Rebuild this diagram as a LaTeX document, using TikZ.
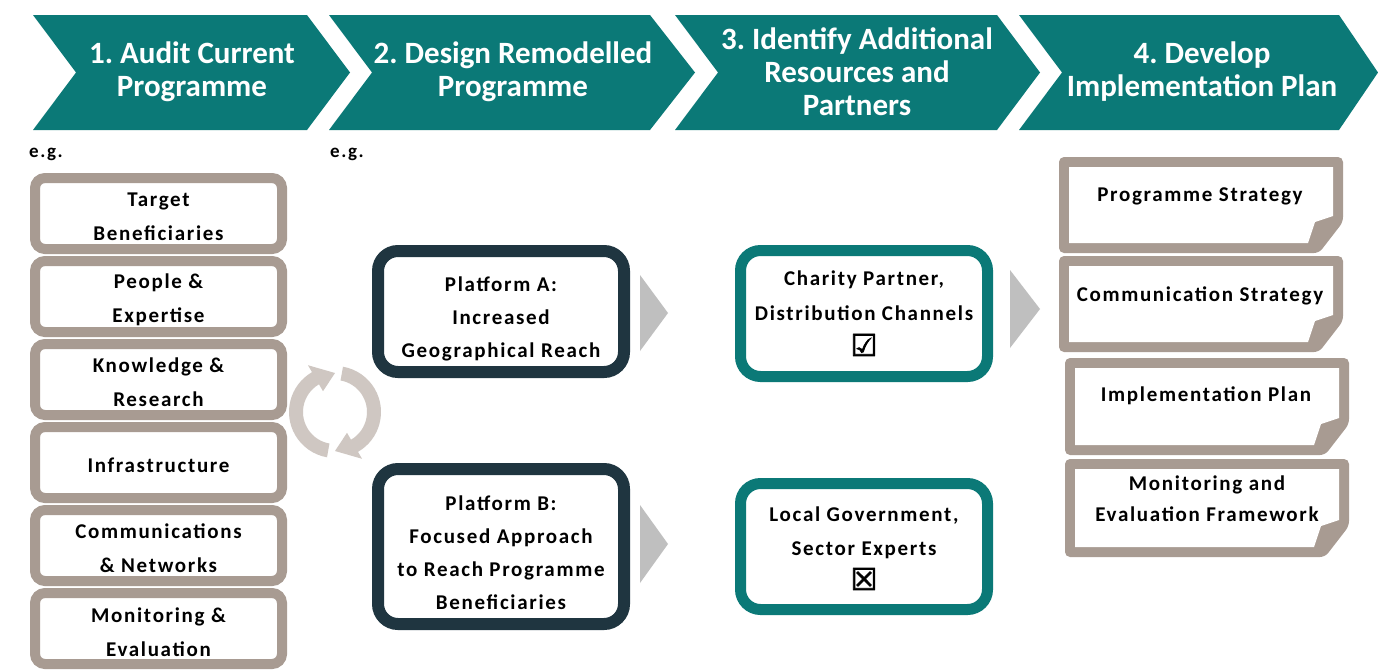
\documentclass[tikz,border=0pt]{standalone}
\usepackage{fontspec}
\setmainfont{Carlito}
\newfontfamily\spacedfont[LetterSpace=8]{Carlito}
\newfontfamily\symfont[FakeBold=2.5]{DejaVu Sans}
\frenchspacing
\definecolor{tealc}{RGB}{11,121,119}
\definecolor{gryc}{RGB}{168,155,146}
\definecolor{navyc}{RGB}{31,53,64}
\definecolor{trigc}{RGB}{191,191,191}
\definecolor{recc}{RGB}{207,199,194}
\tikzset{
  chev/.style={fill=tealc},
  chevtext/.style={text=white, align=center, font={\frenchspacing\bfseries\fontsize{31pt}{33pt}\selectfont}},
  body/.style={align=center, text=black, font={\spacedfont\bfseries\fontsize{21pt}{34pt}\selectfont}},
  lbox/.style={draw=gryc, line width=10pt, rounded corners=10pt, fill=white, minimum width=247pt, minimum height=71pt},
  pbox/.style={draw=navyc, line width=12pt, rounded corners=20pt, fill=white, minimum width=246pt},
  tbox/.style={draw=tealc, line width=11pt, rounded corners=20pt, fill=white, minimum width=247pt, minimum height=126pt},
  trig/.style={fill=trigc},
  docfill/.style={fill=gryc, rounded corners=5pt},
  eg/.style={font={\spacedfont\bfseries\fontsize{19pt}{20pt}\selectfont}},
}
\newcommand\docshape[4]{%
  \fill[docfill] (#1,#2) -- (#3,#2) -- (#3,{#4-31}) -- ({#3-24},#4) -- (#1,#4) -- cycle;
  \fill[white] ({#1+10},{#2+10}) -- ({#3-10},{#2+10}) -- ({#3-10},{#4-37}) -- ({#3-28},{#4-31}) -- ({#3-35},{#4-10}) -- ({#1+10},{#4-10}) -- cycle;
}
\begin{document}
\begin{tikzpicture}[x=1pt,y=-1pt]
\useasboundingbox (0,0) rectangle (1378,670);
\fill[white] (0,0) rectangle (1378,670);
% chevrons
\fill[chev] (33,15) -- (307,15) -- (350,72.5) -- (307,130) -- (33,130) -- (76,72.5) -- cycle;
\fill[chev] (329,15) -- (650,15) -- (695,72.5) -- (650,130) -- (329,130) -- (372,72.5) -- cycle;
\fill[chev] (675,15) -- (997,15) -- (1040,72.5) -- (997,130) -- (675,130) -- (718,72.5) -- cycle;
\fill[chev] (1019,15) -- (1339,15) -- (1378,72.5) -- (1339,130) -- (1019,130) -- (1062,72.5) -- cycle;
\node[chevtext] (c1) at (192,72) {1. Audit Current\\Programme};
\node[chevtext] (c2) at (513,72) {2. Design Remodelled\\Programme};
\node[chevtext] (c3) at (857,72) {3. Identify Additional\\Resources and\\Partners};
\node[chevtext] (c4) at (1202,72) {4. Develop\\Implementation Plan};
% e.g.
\node[eg] (eg1) at (46,154) {e.g.};
\node[eg] (eg2) at (347,154) {e.g.};
% left column
\foreach \i/\yy in {1/213.5,2/296.5,3/379.5,4/462.5,5/545.5,6/628.5}
  \node[lbox] (l\i) at (158.5,\yy) {};
\node[body] (l1t) at ([yshift=-3pt]l1.center) {Target\\Beneficiaries};
\node[body] (l2t) at ([yshift=-3pt]l2.center) {People \&\\Expertise};
\node[body] (l3t) at ([yshift=-3pt]l3.center) {Knowledge \&\\Research};
\node[body] (l4t) at ([yshift=-3pt]l4.center) {Infrastructure};
\node[body] (l5t) at ([yshift=-3pt]l5.center) {Communications\\\& Networks};
\node[body] (l6t) at ([yshift=-4pt]l6.center) {Monitoring \&\\Evaluation};
% recycle icon
\begin{scope}[shift={(335,412)}, yscale=-1]
\fill[recc] (260:32) arc[start angle=260, end angle=120, radius=32] -- (120:24) -- (90:39) -- (120:54) -- (120:46) arc[start angle=120, end angle=260, radius=46] -- cycle;
\fill[recc] (80:32) arc[start angle=80, end angle=-60, radius=32] -- (-60:24) -- (-90:39) -- (-60:54) -- (-60:46) arc[start angle=-60, end angle=80, radius=46] -- cycle;
\end{scope}
% platforms
\node[pbox, minimum height=121pt] (pa) at (501,311.5) {};
\node[pbox, minimum height=155pt] (pb) at (501,546.5) {};
\node[body, font={\spacedfont\bfseries\fontsize{21pt}{33pt}\selectfont}] (pat) at ([yshift=-7pt]pa.center) {Platform A:\\Increased\\Geographical Reach};
\node[body, font={\spacedfont\bfseries\fontsize{21pt}{33pt}\selectfont}] (pbt) at ([yshift=-6pt]pb.center) {Platform B:\\Focused Approach\\to Reach Programme\\Beneficiaries};
% triangles
\fill[trig] (640,275) -- (668,313) -- (640,351) -- cycle;
\fill[trig] (640,505) -- (668,544) -- (640,583) -- cycle;
\fill[trig] (1010,270) -- (1040,309) -- (1010,348) -- cycle;
% teal boxes
\node[tbox] (ta) at (864,313.5) {};
\node[tbox] (tb) at (864,546.5) {};
\node[body, font={\spacedfont\bfseries\fontsize{21pt}{35pt}\selectfont}] (tat) at ([yshift=0pt]ta.center) {Charity Partner,\\Distribution Channels\\{\symfont\fontsize{30pt}{38pt}\selectfont ☑}};
\node[body] (tbt) at ([yshift=-2pt]tb.center) {Local Government,\\Sector Experts\\{\symfont\fontsize{30pt}{39pt}\selectfont ☒}};
% document shapes
\docshape{1059}{157}{1343}{253}
\docshape{1059}{256}{1343}{352}
\docshape{1065}{358}{1349}{455}
\docshape{1065}{459}{1349}{557}
\node[body] (d1) at (1200,196) {Programme Strategy};
\node[body] (d2) at (1200,296) {Communication Strategy};
\node[body] (d3) at (1206,396) {Implementation Plan};
\node[body, font={\spacedfont\bfseries\fontsize{21pt}{31pt}\selectfont}] (d4) at (1207,499) {Monitoring and\\Evaluation Framework};
\end{tikzpicture}
\end{document}
